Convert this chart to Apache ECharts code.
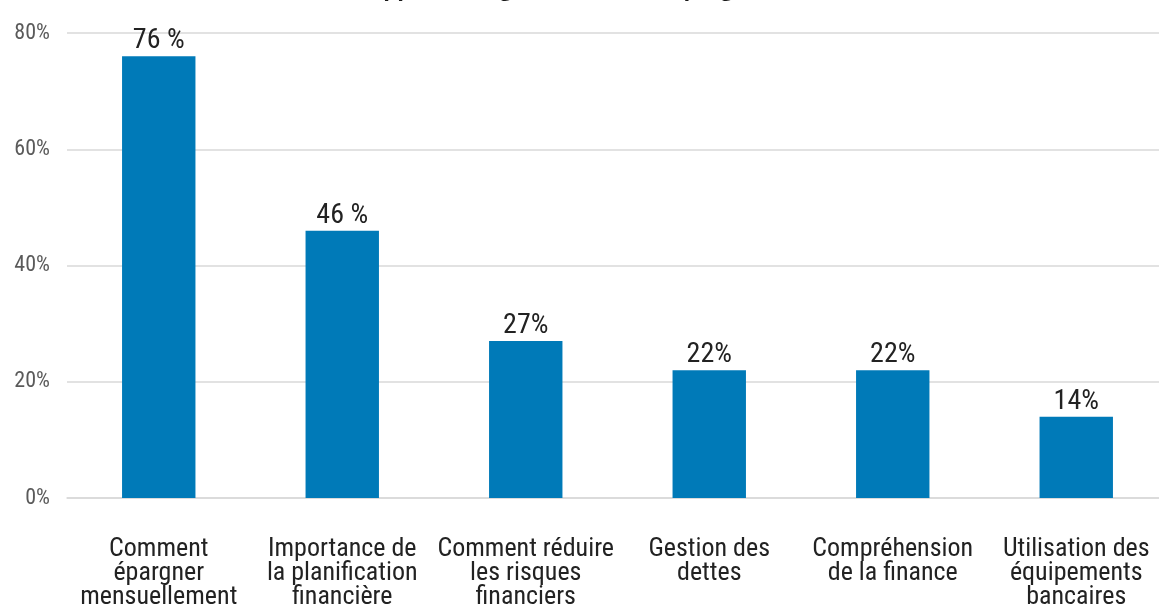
<!DOCTYPE html>
<html><head><meta charset="utf-8">
<script src="https://cdn.jsdelivr.net/npm/echarts@6/dist/echarts.min.js"></script>
<style>html,body{margin:0;padding:0;background:#fff}#c{width:1159px;height:609px}</style>
</head><body><div id="c"></div>
<script>
const titleText = "Quels sont les apprentissages effectués au programme de formation ?";
const categories = ["Comment\népargner\nmensuellement","Importance de\nla planification\nfinancière","Comment réduire\nles risques\nfinanciers","Gestion des\ndettes","Compréhension\nde la finance","Utilisation des\néquipements\nbancaires"];
const values = [76, 46, 27, 22, 22, 14];
const valueLabels = ["76 %", "46 %", "27%", "22%", "22%", "14%"];
const yTicks = [0, 20, 40, 60, 80];

const condensed = '"Roboto Condensed", "Liberation Sans Narrow", Roboto, sans-serif';
const chart = echarts.init(document.getElementById('c'));
chart.setOption({
  animation: false,
  title: {
    text: titleText, left: 590, textAlign: 'center', top: -26,
    textStyle: { fontFamily: '"Open Sans", sans-serif', fontWeight: 'bold', fontSize: 22, color: '#1a1a1a' }
  },
  grid: { left: 67, width: 1101, top: 33, bottom: 111, outerBoundsMode: 'none' },
  xAxis: {
    type: 'category', data: categories,
    axisLine: { show: true, lineStyle: { color: '#d9d9d9', width: 1.5 } },
    axisTick: { show: false },
    axisLabel: { margin: 39, fontFamily: condensed, fontSize: 26, lineHeight: 24, color: '#222', interval: 0 }
  },
  yAxis: {
    type: 'value', min: 0, max: 80, interval: 20,
    axisLine: { show: false }, axisTick: { show: false },
    splitLine: { lineStyle: { color: '#d9d9d9', width: 1.5 } },
    axisLabel: { margin: 17, fontFamily: condensed, fontSize: 22, color: '#5a5a5a',
      formatter: v => yTicks.includes(v) ? v + '%' : '' }
  },
  series: [{
    type: 'bar', data: values, barWidth: '40%',
    itemStyle: { color: '#007AB8' },
    label: { show: true, position: 'top', distance: 1, fontFamily: condensed, fontSize: 28, color: '#222',
      formatter: p => valueLabels[p.dataIndex] }
  }]
});
</script></body></html>
